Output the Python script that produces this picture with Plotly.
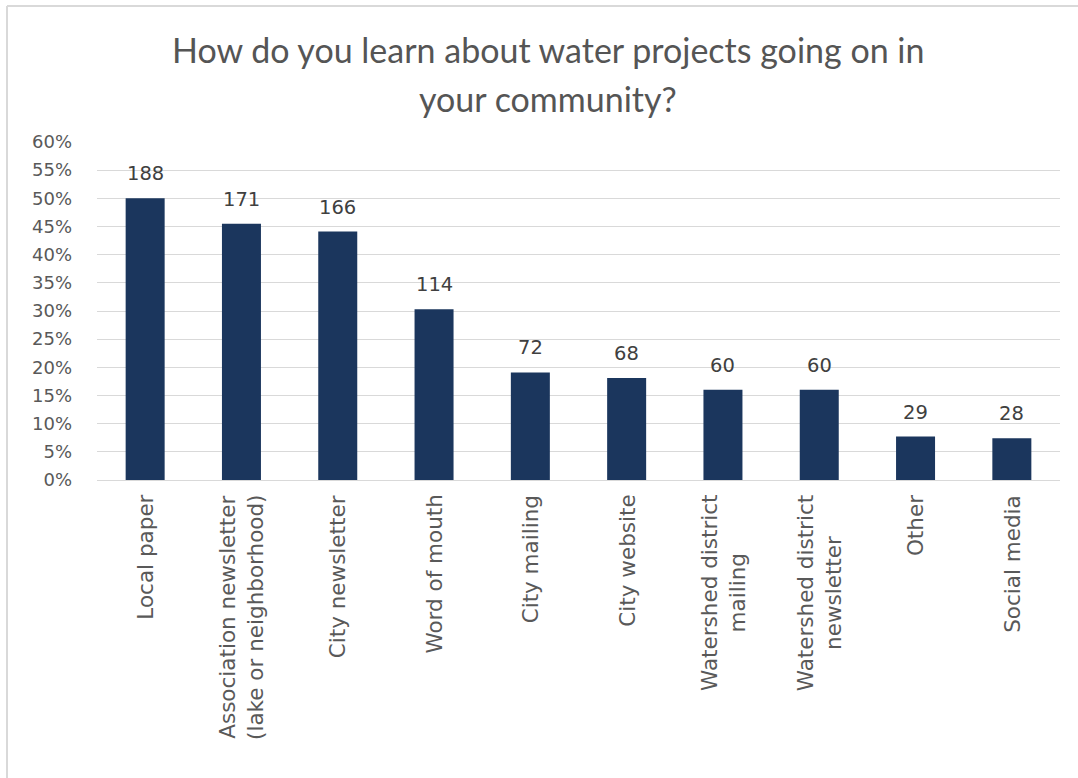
import plotly.graph_objects as go

# Survey responses: how residents learn about local water projects
categories = [
    "Local paper",
    "Association newsletter<br>(lake or neighborhood)",
    "City newsletter",
    "Word of mouth",
    "City mailing",
    "City website",
    "Watershed district<br>mailing",
    "Watershed district<br>newsletter",
    "Other",
    "Social media",
]
counts = [188, 171, 166, 114, 72, 68, 60, 60, 29, 28]
shares = [0.500, 0.455, 0.441, 0.303, 0.191, 0.181, 0.160, 0.160, 0.077, 0.074]

title_lines = ["How do you learn about water projects going on in", "your community?"]

BAR = "#1B365D"
GRID = "#D9D9D9"
TXT = "#595959"

W, H = 1078, 778
L, R, T, B = 97, 18, 142, 298
pw, ph = W - L - R, H - T - B


def px_x(x):
    return (x - L) / pw


def px_y(y):
    return (H - B - y) / ph


fig = go.Figure(
    go.Bar(
        x=categories,
        y=shares,
        marker=dict(color=BAR, line=dict(width=0)),
        hoverinfo="skip",
    )
)

annotations = []
# count labels above each bar
for c, v, n in zip(categories, shares, counts):
    annotations.append(dict(
        x=c, y=v, xref="x", yref="y", text=str(n), showarrow=False,
        yanchor="bottom", yshift=11,
        font=dict(family="DejaVu Sans", size=19.5, color="#404040"),
    ))
# rotated category labels under the axis
for c in categories:
    annotations.append(dict(
        x=c, y=0, xref="x", yref="paper", text=c, showarrow=False,
        textangle=-90, yanchor="top", xanchor="center", yshift=-13,
        align="center",
        font=dict(family="DejaVu Sans", size=21.5, color=TXT),
    ))
# two-line chart title
for line, cy in zip(title_lines, [50, 98]):
    annotations.append(dict(
        x=px_x(548), y=px_y(cy), xref="paper", yref="paper",
        text=line, showarrow=False, xanchor="center", yanchor="middle",
        font=dict(family="Lato", size=34, color="#555555"),
    ))

shapes = [
    # outer frame (top and left edges)
    dict(type="line", xref="paper", yref="paper",
         x0=px_x(7), x1=px_x(W + 5), y0=px_y(6), y1=px_y(6),
         line=dict(color=GRID, width=2)),
    dict(type="line", xref="paper", yref="paper",
         x0=px_x(7), x1=px_x(7), y0=px_y(6), y1=px_y(H + 5),
         line=dict(color=GRID, width=2)),
]

fig.update_layout(
    width=W, height=H,
    margin=dict(l=L, r=R, t=T, b=B, pad=0),
    paper_bgcolor="white", plot_bgcolor="white",
    bargap=0.595,
    showlegend=False,
    annotations=annotations,
    shapes=shapes,
    xaxis=dict(showticklabels=False, showgrid=False, showline=False,
               ticks="", fixedrange=True),
    yaxis=dict(range=[0, 0.6], dtick=0.05, tickformat=".0%",
               showgrid=True, gridcolor=GRID, gridwidth=1.3,
               zeroline=True, zerolinecolor=GRID, zerolinewidth=1.3,
               showline=False, ticks="", ticklabelstandoff=24,
               tickfont=dict(family="DejaVu Sans", size=18, color=TXT),
               fixedrange=True),
)

fig.write_html("out.html")
